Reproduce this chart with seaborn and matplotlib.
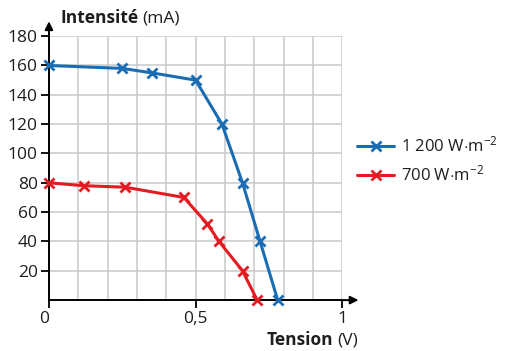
import numpy as np
import pandas as pd
import matplotlib
matplotlib.use('Agg')
import matplotlib.pyplot as plt
import seaborn as sns

# Data
tension_1200 = [0.0, 0.25, 0.35, 0.50, 0.59, 0.66, 0.72, 0.78]
intensite_1200 = [160, 158, 155, 150, 120, 80, 40, 0]
tension_700 = [0.0, 0.12, 0.26, 0.46, 0.54, 0.58, 0.66, 0.71]
intensite_700 = [80, 78, 77, 70, 52, 40, 20, 0]
series_labels = ['1 200 W$\\cdot$m$^{-2}$', '700 W$\\cdot$m$^{-2}$']
x_tick_values = [0, 0.5, 1]
x_tick_labels = ['0', '0,5', '1']
y_tick_values = [20, 40, 60, 80, 100, 120, 140, 160, 180]

blue = '#1b6db3'
red = '#e41b23'
text_color = '#1e1e1e'

sns.set_theme(style='white')
plt.rcParams['font.family'] = ['Open Sans', 'DejaVu Sans']
plt.rcParams['mathtext.fontset'] = 'custom'
plt.rcParams['mathtext.rm'] = 'Open Sans'
plt.rcParams['mathtext.it'] = 'Open Sans'

df_1200 = pd.DataFrame({'tension': tension_1200, 'intensite': intensite_1200})
df_700 = pd.DataFrame({'tension': tension_700, 'intensite': intensite_700})

fig = plt.figure(figsize=(5.1, 3.51), dpi=100)
ax = fig.add_axes([0.096, 0.145, 0.575, 0.752])

for d, col, lab in [(df_1200, blue, series_labels[0]),
                    (df_700, red, series_labels[1])]:
    sns.lineplot(data=d, x='tension', y='intensite', color=col, label=lab,
                 marker='x', markersize=7, markeredgewidth=2.0,
                 markeredgecolor=col, linewidth=2.2, sort=False,
                 estimator=None, ax=ax, zorder=5, clip_on=False)

ax.set_xlim(0, 1)
ax.set_ylim(0, 180)

# grid every 0.1 V and 20 mA
ax.set_xticks(np.arange(0, 1.01, 0.1), minor=True)
ax.set_xticks(x_tick_values)
ax.set_xticklabels(x_tick_labels)
ax.set_yticks(y_tick_values)
ax.grid(True, which='both', color='#c9c9c9', linewidth=1.1)
ax.tick_params(which='minor', length=0)
ax.tick_params(which='major', direction='out', length=6, width=1.3,
               color='black', labelsize=12.5, labelcolor=text_color, pad=2,
               bottom=True, left=True)
ax.get_xticklabels()[0].set_horizontalalignment('right')

for s in ['top', 'right']:
    ax.spines[s].set_visible(False)
for s in ['bottom', 'left']:
    ax.spines[s].set_color('black')
    ax.spines[s].set_linewidth(1.4)

# axis arrows
ax.annotate('', xy=(1.065, 0), xytext=(0.99, 0), xycoords='data',
            arrowprops=dict(arrowstyle='-|>', color='black', lw=1.4,
                            mutation_scale=12), annotation_clip=False)
ax.annotate('', xy=(0, 192), xytext=(0, 179), xycoords='data',
            arrowprops=dict(arrowstyle='-|>', color='black', lw=1.4,
                            mutation_scale=12), annotation_clip=False)

ax.set_xlabel('')
ax.set_ylabel('')

# axis titles: bold word followed by the unit in regular weight
renderer = fig.canvas.get_renderer()


def two_part_label(x, y, bold, regular):
    t = fig.text(x, y, bold, fontsize=12.5, fontweight='bold',
                 color=text_color, va='center')
    bb = t.get_window_extent(renderer=renderer)
    x2 = (bb.x1 + 4) / fig.bbox.width
    fig.text(x2, y, regular, fontsize=12.5, color=text_color, va='center')


two_part_label(0.118, 0.948, 'Intensité', '(mA)')
two_part_label(0.522, 0.03, 'Tension', '(V)')

ax.legend(title=None, frameon=False, fontsize=12, handlelength=2.2,
          handletextpad=0.4, labelspacing=0.55, labelcolor=text_color,
          loc='center left', bbox_to_anchor=(1.0, 0.53))

fig.savefig('out.png', dpi=100)
